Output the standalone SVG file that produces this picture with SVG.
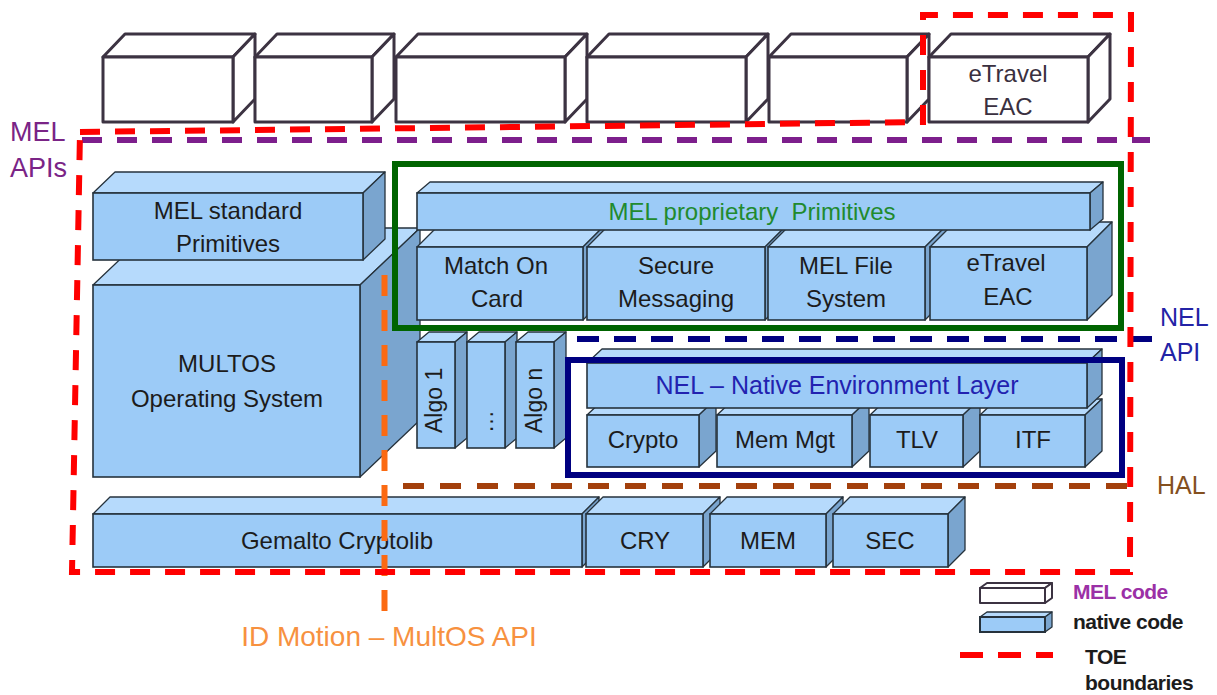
<svg xmlns="http://www.w3.org/2000/svg" width="1217" height="695" viewBox="0 0 1217 695">
<defs>
<style>
text{font-family:"Liberation Sans",Arial,sans-serif;font-size:24px;fill:#1c1c1c;text-anchor:middle}
.w polygon,.w rect{fill:#fff;stroke:#3c3342;stroke-width:3;stroke-linejoin:round}
.w text{fill:#3a3040}
.b .f{fill:#9ccbf7;stroke:#26323c;stroke-width:1.6}
.b .t{fill:#b6dafc;stroke:#26323c;stroke-width:1.3;stroke-linejoin:round}
.b .s{fill:#7aa5cf;stroke:#26323c;stroke-width:1.3;stroke-linejoin:round}
.dash{fill:none;stroke-width:6;stroke-dasharray:20 15}
.lbl{text-anchor:start;font-size:26px}
.leg{text-anchor:start;font-size:21px;font-weight:bold;letter-spacing:-0.5px}
</style>
</defs>

<!-- MEL code (white) boxes -->
<g id="mel-box-1" class="w"><polygon points="103,57 125,34 255,34 233,57"/><polygon points="233,57 255,34 255,99 233,122"/><rect x="103" y="57" width="130" height="65"/></g>
<g id="mel-box-2" class="w"><polygon points="255,57 277,34 394,34 372,57"/><polygon points="372,57 394,34 394,99 372,122"/><rect x="255" y="57" width="117" height="65"/></g>
<g id="mel-box-3" class="w"><polygon points="396,57 418,34 587,34 565,57"/><polygon points="565,57 587,34 587,99 565,122"/><rect x="396" y="57" width="169" height="65"/></g>
<g id="mel-box-4" class="w"><polygon points="587,57 609,34 768,34 746,57"/><polygon points="746,57 768,34 768,99 746,122"/><rect x="587" y="57" width="159" height="65"/></g>
<g id="mel-box-5" class="w"><polygon points="769,57 791,34 929,34 907,57"/><polygon points="907,57 929,34 929,99 907,122"/><rect x="769" y="57" width="138" height="65"/></g>
<g id="mel-etravel" class="w"><polygon points="929,57 951,34 1110,34 1088,57"/><polygon points="1088,57 1110,34 1110,99 1088,122"/><rect x="929" y="57" width="159" height="65"/><text x="1008" y="82">eTravel</text><text x="1008" y="115">EAC</text></g>

<!-- MULTOS and MEL standard -->
<g id="multos" class="b"><polygon class="t" points="93,285 153,228 420,228 360,285"/><polygon class="s" points="360,285 420,228 420,420 360,477"/><rect class="f" x="93" y="285" width="267" height="192"/><text x="227" y="372">MULTOS</text><text x="227" y="407">Operating System</text></g>
<g id="mel-standard" class="b"><polygon class="t" points="93,193 115,172 385,172 363,193"/><polygon class="s" points="363,193 385,172 385,239 363,260"/><rect class="f" x="93" y="193" width="270" height="67"/><text x="228" y="219">MEL standard</text><text x="228" y="252">Primitives</text></g>

<!-- MEL proprietary row -->
<g id="match-on-card" class="b"><polygon class="t" points="417,247 442,222 608,222 583,247"/><polygon class="s" points="583,247 608,222 608,295 583,320"/><rect class="f" x="417" y="247" width="166" height="73"/><text x="496" y="274">Match On</text><text x="497" y="307">Card</text></g>
<g id="secure-messaging" class="b"><polygon class="t" points="587,247 612,222 790,222 765,247"/><polygon class="s" points="765,247 790,222 790,295 765,320"/><rect class="f" x="587" y="247" width="178" height="73"/><text x="676" y="274">Secure</text><text x="676" y="307">Messaging</text></g>
<g id="mel-file-system" class="b"><polygon class="t" points="768,247 793,222 950,222 925,247"/><polygon class="s" points="925,247 950,222 950,295 925,320"/><rect class="f" x="768" y="247" width="157" height="73"/><text x="846" y="274">MEL File</text><text x="846" y="307">System</text></g>
<g id="etravel-eac" class="b"><polygon class="t" points="930,247 955,222 1112,222 1087,247"/><polygon class="s" points="1087,247 1112,222 1112,295 1087,320"/><rect class="f" x="930" y="247" width="157" height="73"/><text x="1006" y="271">eTravel</text><text x="1008" y="305">EAC</text></g>
<g id="mel-proprietary" class="b"><polygon class="t" points="417,193 430,182 1103,182 1090,193"/><polygon class="s" points="1090,193 1103,182 1103,219 1090,230"/><rect class="f" x="417" y="193" width="673" height="37"/><text x="752" y="220" style="fill:#218a2e">MEL proprietary&#160; Primitives</text></g>

<!-- Algo boxes -->
<g id="algo-1" class="b"><polygon class="t" points="417,342 429,332 467,332 455,342"/><polygon class="s" points="455,342 467,332 467,438 455,448"/><rect class="f" x="417" y="342" width="38" height="106"/><text transform="translate(442,433) rotate(-90)" style="text-anchor:start;font-size:23px">Algo 1</text></g>
<g id="algo-dots" class="b"><polygon class="t" points="467,342 479,332 517,332 505,342"/><polygon class="s" points="505,342 517,332 517,438 505,448"/><rect class="f" x="467" y="342" width="38" height="106"/><text transform="translate(493,433) rotate(-90)" style="text-anchor:start;font-size:23px">…</text></g>
<g id="algo-n" class="b"><polygon class="t" points="516,342 528,332 566,332 554,342"/><polygon class="s" points="554,342 566,332 566,438 554,448"/><rect class="f" x="516" y="342" width="38" height="106"/><text transform="translate(542,433) rotate(-90)" style="text-anchor:start;font-size:23px">Algo n</text></g>

<!-- NEL -->
<g id="crypto" class="b"><polygon class="t" points="587,415 604,399 716,399 699,415"/><polygon class="s" points="699,415 716,399 716,451 699,467"/><rect class="f" x="587" y="415" width="112" height="52"/><text x="643" y="448">Crypto</text></g>
<g id="mem-mgt" class="b"><polygon class="t" points="717,415 734,399 869,399 852,415"/><polygon class="s" points="852,415 869,399 869,451 852,467"/><rect class="f" x="717" y="415" width="135" height="52"/><text x="785" y="448">Mem Mgt</text></g>
<g id="tlv" class="b"><polygon class="t" points="870,415 887,399 980,399 963,415"/><polygon class="s" points="963,415 980,399 980,451 963,467"/><rect class="f" x="870" y="415" width="93" height="52"/><text x="917" y="448">TLV</text></g>
<g id="itf" class="b"><polygon class="t" points="980,415 997,399 1102,399 1085,415"/><polygon class="s" points="1085,415 1102,399 1102,451 1085,467"/><rect class="f" x="980" y="415" width="105" height="52"/><text x="1033" y="448">ITF</text></g>
<g id="nel-layer" class="b"><polygon class="t" points="587,363 602,349 1102,349 1087,363"/><polygon class="s" points="1087,363 1102,349 1102,394 1087,408"/><rect class="f" x="587" y="363" width="500" height="45"/><text x="837" y="394" style="fill:#2222b0;font-size:25px">NEL – Native Environment Layer</text></g>

<!-- Bottom row -->
<g id="gemalto-cryptolib" class="b"><polygon class="t" points="93,514 110,497 599,497 582,514"/><polygon class="s" points="582,514 599,497 599,550 582,567"/><rect class="f" x="93" y="514" width="489" height="53"/><text x="337" y="549">Gemalto Cryptolib</text></g>
<g id="cry" class="b"><polygon class="t" points="586,514 603,497 720,497 703,514"/><polygon class="s" points="703,514 720,497 720,550 703,567"/><rect class="f" x="586" y="514" width="117" height="53"/><text x="645" y="549">CRY</text></g>
<g id="mem" class="b"><polygon class="t" points="710,514 727,497 843,497 826,514"/><polygon class="s" points="826,514 843,497 843,550 826,567"/><rect class="f" x="710" y="514" width="116" height="53"/><text x="768" y="549">MEM</text></g>
<g id="sec" class="b"><polygon class="t" points="833,514 850,497 965,497 948,514"/><polygon class="s" points="948,514 965,497 965,550 948,567"/><rect class="f" x="833" y="514" width="115" height="53"/><text x="890" y="549">SEC</text></g>

<!-- Boundaries and API lines -->
<g id="boundaries">
<rect id="mel-proprietary-frame" x="395" y="164" width="726" height="164" fill="none" stroke="#006400" stroke-width="6"/>
<rect id="nel-frame" x="568" y="360" width="554" height="115" fill="none" stroke="#000080" stroke-width="6"/>
<line id="mel-apis-line" class="dash" x1="82" y1="140" x2="1150" y2="140" stroke="#7d1f8c"/>
<line id="nel-api-line" class="dash" x1="577" y1="339" x2="1152" y2="339" stroke="#000080" stroke-width="5" style="stroke-dasharray:22 15"/>
<line id="hal-line" class="dash" x1="403" y1="486" x2="1136" y2="486" stroke="#a3400c" stroke-width="5" style="stroke-dasharray:21 16"/>
<line id="multos-api-line" class="dash" x1="384.5" y1="275" x2="384.5" y2="625" stroke="#fb6a12" stroke-width="5" style="stroke-dasharray:21 14"/>
<polyline id="toe-boundary" class="dash" points="80,132 600,126 923,122 923,15 1131,15 1130,572 72,572 80,132" stroke="#ff0000" stroke-linejoin="miter"/>
</g>

<!-- Layer labels -->
<g id="labels">
<text class="lbl" x="10" y="141" style="fill:#7a2486;font-size:27px">MEL</text>
<text class="lbl" x="10" y="177" style="fill:#7a2486;font-size:27px">APIs</text>
<text class="lbl" x="1160" y="326" style="fill:#2323a6;font-size:25px">NEL</text>
<text class="lbl" x="1160" y="361" style="fill:#2323a6;font-size:25px">API</text>
<text class="lbl" x="1157" y="494" style="fill:#84501f;font-size:25px">HAL</text>
<text x="389" y="646" style="fill:#f7913f;font-size:28px">ID Motion – MultOS API</text>
</g>

<!-- Legend -->
<g id="legend">
<g id="legend-mel" class="w"><polygon points="980,588 987,583 1052,583 1045,588" style="stroke-width:2"/><polygon points="1045,588 1052,583 1052,598 1045,603" style="stroke-width:2"/><rect x="980" y="588" width="65" height="15" style="stroke-width:2"/></g>
<text class="leg" x="1073" y="599" style="fill:#9b30a6">MEL code</text>
<g id="legend-native" class="b"><polygon class="t" points="980,617 987,612 1052,612 1045,617"/><polygon class="s" points="1045,617 1052,612 1052,627 1045,632"/><rect class="f" x="980" y="617" width="65" height="15" style="stroke-width:2"/></g>
<text class="leg" x="1073" y="629">native code</text>
<line class="dash" x1="960" y1="655" x2="1053" y2="655" stroke="#ff0000" style="stroke-dasharray:23 15"/>
<text class="leg" x="1085" y="664">TOE</text>
<text class="leg" x="1085" y="690">boundaries</text>
</g>
</svg>
